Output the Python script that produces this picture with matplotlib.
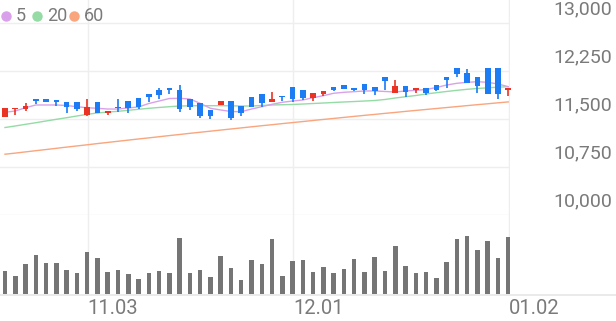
import matplotlib
matplotlib.use('Agg')
import matplotlib.pyplot as plt
from matplotlib.lines import Line2D

plt.rcParams['font.family'] = ['Roboto', 'DejaVu Sans']

# daily candles (KRW)
opens = [11530, 11660, 11660, 11810, 11810, 11790, 11770, 11760, 11560, 11760,
         11590, 11690, 11780, 11830, 11890, 11960, 11990, 11960, 11810, 11750,
         11640, 11720, 11780, 11700, 11850, 11890, 11760, 11860, 12000, 11960,
         11830, 11890, 12000, 12030, 11990, 12050, 12000, 12160, 11900, 12020,
         11960, 11990, 12030, 12150, 12300, 12220, 12150, 12300, 12300, 11950]
closes = [11670, 11670, 11700, 11780, 11770, 11770, 11680, 11660, 11680, 11600,
          11620, 11670, 11670, 11680, 11840, 11870, 11960, 11650, 11680, 11550,
          11550, 11780, 11510, 11600, 11690, 11750, 11820, 11840, 11820, 11830,
          11900, 11930, 11960, 11970, 11950, 11960, 11930, 12090, 12020, 11920,
          11990, 11910, 11960, 12110, 12200, 12060, 12020, 11890, 11890, 11980]
highs = [11670, 11670, 11750, 11810, 11810, 11790, 11770, 11770, 11810, 11770,
         11620, 11810, 11780, 11830, 11890, 11980, 11990, 12030, 11810, 11750,
         11640, 11780, 11780, 11700, 11850, 11890, 11920, 11860, 12000, 11960,
         11900, 11930, 12000, 12030, 11990, 12050, 12000, 12160, 12110, 12020,
         11990, 11990, 12030, 12150, 12300, 12280, 12150, 12300, 12300, 11980]
lows = [11530, 11570, 11620, 11730, 11770, 11700, 11590, 11630, 11550, 11590,
        11560, 11610, 11590, 11650, 11770, 11820, 11890, 11610, 11640, 11510,
        11500, 11720, 11480, 11550, 11680, 11680, 11760, 11780, 11770, 11790,
        11780, 11860, 11930, 11970, 11940, 11890, 11880, 11960, 11900, 11850,
        11900, 11880, 11930, 11990, 12150, 12060, 11910, 11890, 11810, 11860]

ma5 = [11605, 11625, 11676, 11719, 11719, 11719, 11711, 11692, 11676, 11667,
       11656, 11656, 11672, 11688, 11742, 11781, 11820, 11823, 11813, 11745,
       11667, 11641, 11617, 11614, 11656, 11692, 11730, 11761, 11781, 11797,
       11833, 11864, 11902, 11917, 11927, 11938, 11938, 11930, 11922, 11938,
       11948, 11961, 11992, 12031, 12058, 12073, 12083, 12073, 12047, 12005]
ma20 = [11367, 11391, 11417, 11442, 11469, 11495, 11520, 11547, 11573, 11594,
        11609, 11620, 11636, 11652, 11667, 11680, 11692, 11703, 11706, 11708,
        11708, 11708, 11706, 11703, 11703, 11711, 11719, 11723, 11727, 11734,
        11742, 11750, 11758, 11766, 11773, 11781, 11789, 11805, 11828, 11848,
        11867, 11891, 11911, 11930, 11948, 11964, 11977, 11987, 11997, 12005]
ma60 = [10950, 10967, 10986, 11005, 11023, 11042, 11061, 11079, 11097, 11116,
        11134, 11152, 11170, 11188, 11205, 11223, 11241, 11258, 11276, 11293,
        11310, 11327, 11344, 11361, 11378, 11395, 11411, 11428, 11444, 11460,
        11477, 11493, 11509, 11525, 11541, 11557, 11572, 11588, 11603, 11619,
        11634, 11649, 11664, 11679, 11694, 11709, 11724, 11738, 11753, 11767]

volumes = [230, 183, 297, 387, 313, 307, 237, 207, 423, 363,
           223, 237, 197, 153, 213, 230, 213, 557, 213, 237,
           167, 377, 257, 137, 340, 300, 550, 183, 330, 337,
           217, 270, 210, 253, 350, 220, 367, 230, 480, 280,
           210, 217, 157, 320, 550, 583, 437, 533, 360, 573]

date_ticks = [8, 28, 49]
date_labels = ['11.03', '12.01', '01.02']
price_ticks = [13000, 12250, 11500, 10750, 10000]
ma_labels = ['5', '20', '60']

RED = '#ea3323'
BLUE = '#1b7cf4'
MA_COLORS = ['#d9a1ea', '#95dba5', '#f9a57e']
GRID = '#eeeeee'
TXT = '#7a7a7a'

W, H = 616, 321
fig = plt.figure(figsize=(W / 100, H / 100), dpi=100)

def box(x0, y0, x1, y1):
    # pixel box (top-left origin) -> figure fraction rect
    return [x0 / W, 1 - y1 / H, (x1 - x0) / W, (y1 - y0) / H]

ax = fig.add_axes(box(0, 0, 510, 215))
axv = fig.add_axes(box(0, 215, 510, 294))
for a in (ax, axv):
    a.set_xlim(-0.487, 49.17)
    a.axis('off')
ax.set_ylim(10000, 13359.4)
axv.set_ylim(0, 790)

for p in price_ticks:
    ax.axhline(p, color=GRID, lw=1, zorder=0)
for t in date_ticks:
    ax.axvline(t + 0.08, color=GRID, lw=1, zorder=0)
    axv.axvline(t + 0.08, color=GRID, lw=1, zorder=0)

n = len(opens)
xs = list(range(n))
for vals, c in zip([ma60, ma20, ma5], MA_COLORS[::-1]):
    ax.plot(xs, vals, color=c, lw=1.0, zorder=2)

min_h = 15
for i in xs:
    o, c, h, l = opens[i], closes[i], highs[i], lows[i]
    col = RED if c >= o else BLUE
    ax.vlines(i, l, h, color=col, lw=1.2, zorder=3, clip_on=False)
    ax.bar(i, max(abs(c - o), min_h), bottom=min(o, c), width=0.55,
           color=col, zorder=4, clip_on=False)

axv.bar(xs, volumes, width=0.44, color='#757575', zorder=2)

fig.add_artist(Line2D([0, 1], [1 - 294.5 / H] * 2, color='#e6e6e6', lw=1.2))

# price labels on the right
for p in price_ticks:
    y_px = 23 + (13000 - p) / 15.625
    fig.text(612 / W, 1 - (y_px - 5) / H, f'{p:,}', ha='right', va='bottom',
             fontsize=14, color=TXT)

# date labels
for t, lab in zip(date_ticks, date_labels):
    x_px = 5 + 10.27 * t
    fig.text((x_px + 0.5) / W, 1 - 309 / H, lab, ha='left', va='center',
             fontsize=14.5, color=TXT)

# legend
lx = [6, 37.3, 74]
for x, c, lab in zip(lx, MA_COLORS, ma_labels):
    fig.add_artist(Line2D([x / W], [1 - 15.7 / H], marker='o', markersize=6.5,
                          color=c, lw=0))
    fig.text((x + 10) / W, 1 - 15.7 / H, lab, ha='left', va='center',
             fontsize=13, color=TXT)

fig.savefig('out.png', dpi=100)
